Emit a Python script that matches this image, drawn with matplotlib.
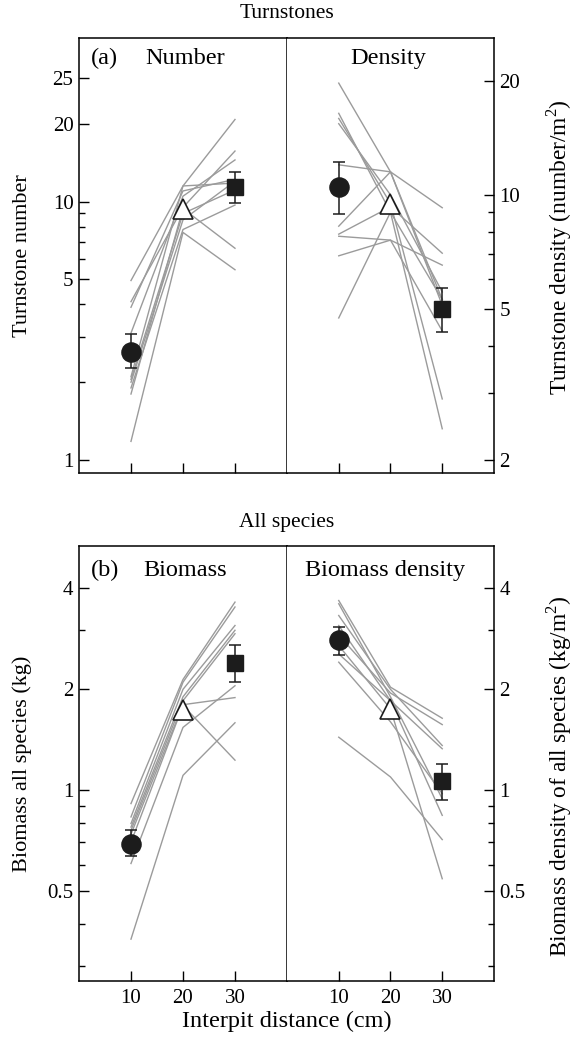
import matplotlib
matplotlib.use('Agg')
import matplotlib.pyplot as plt

plt.rcParams['font.family'] = ['Liberation Serif', 'DejaVu Serif']
plt.rcParams['mathtext.fontset'] = 'custom'
plt.rcParams['mathtext.rm'] = 'Liberation Serif'

dist = [10, 20, 30]

# individual trajectories (value at 10, 20, 30 cm)
number_ind = [
    [4.95, 11.5, 20.8],
    [4.10, 9.5, 15.7],
    [3.90, 11.0, 12.2],
    [3.10, 10.5, 14.5],
    [2.10, 11.5, 11.8],
    [2.05, 9.0, 11.1],
    [2.00, 8.5, 12.0],
    [1.90, 7.8, 9.7],
    [1.80, 9.4, 6.6],
    [1.18, 7.6, 5.45],
]
number_mean = [2.62, 9.35, 11.4]
number_lo = [2.26, 9.9]
number_hi = [3.06, 13.0]

density_ind = [
    [19.7, 11.5, 5.3],
    [16.4, 9.0, 2.42],
    [15.9, 9.5, 2.9],
    [15.4, 10.0, 5.55],
    [12.0, 11.5, 9.25],
    [8.27, 11.5, 5.12],
    [7.88, 9.3, 7.02],
    [7.78, 7.6, 6.53],
    [6.91, 7.6, 4.38],
    [4.74, 9.0, 5.3],
]
density_mean = [10.5, 9.44, 5.0]
density_lo = [8.9, 4.36]
density_hi = [12.2, 5.7]

biomass_ind = [
    [0.913, 2.14, 3.64],
    [0.833, 2.10, 3.52],
    [0.796, 2.00, 3.10],
    [0.777, 1.90, 3.00],
    [0.760, 1.85, 2.93],
    [0.740, 1.80, 1.89],
    [0.700, 1.79, 1.23],
    [0.605, 1.54, 2.05],
    [0.360, 1.108, 1.59],
]
biomass_mean = [0.694, 1.73, 2.39]
biomass_lo = [0.637, 2.10]
biomass_hi = [0.764, 2.71]

bdens_ind = [
    [3.68, 2.03, 1.64],
    [3.60, 1.90, 0.944],
    [3.32, 2.00, 1.36],
    [3.10, 1.85, 0.842],
    [2.90, 1.95, 1.57],
    [2.70, 1.75, 0.545],
    [2.55, 1.85, 1.33],
    [2.41, 1.60, 0.977],
    [1.44, 1.096, 0.713],
]
bdens_mean = [2.80, 1.75, 1.064]
bdens_lo = [2.54, 0.934]
bdens_hi = [3.07, 1.195]

num_ticks = [1, 5, 10, 20, 30]
num_labels = ['1', '5', '10', '20', '25']
num_minor = [2, 3, 4, 6, 7, 8, 9]
dens_ticks = [2, 5, 10, 20]
dens_minor = [3, 4, 6, 7, 8, 9]
bio_ticks = [0.5, 1, 2, 4]
bio_labels = ['0.5', '1', '2', '4']
bio_minor = [0.3, 0.4, 0.6, 0.7, 0.8, 0.9, 3]

FS_TICK = 15
FS_YLAB = 16
FS_YLAB_R = 16.8
FS_TITLE = 15.5
FS_PANEL = 17.5
GREY = '#9b9b9b'
INK = '#1c1c1c'


def draw(ax, ind, mean, lo, hi):
    for row in ind:
        ax.plot(dist, row, color=GREY, lw=1.0, zorder=1)
    ends = [mean[0], mean[2]]
    err = [[ends[0] - lo[0], ends[1] - lo[1]], [hi[0] - ends[0], hi[1] - ends[1]]]
    ax.errorbar([10, 30], ends, yerr=err, fmt='none', ecolor=INK,
                elinewidth=1.1, capsize=4, capthick=1.1, zorder=2)
    ax.plot(10, mean[0], 'o', ms=13.8, color=INK, zorder=3)
    ax.plot(20, mean[1], '^', ms=15, mfc='white', mec=INK, mew=1.2, zorder=3)
    ax.plot(30, mean[2], 's', ms=12, color=INK, zorder=3)


def style(ax, ticks, labels, minor, ylim, side, show_x):
    ax.set_yscale('log')
    ax.set_xlim(0, 40)
    ax.set_ylim(*ylim)
    ax.set_xticks(dist)
    if show_x:
        ax.set_xticklabels([str(d) for d in dist])
    else:
        ax.set_xticklabels([])
    ax.set_yticks(ticks, labels)
    ax.set_yticks(minor, minor=True)
    ax.yaxis.set_minor_formatter(plt.NullFormatter())
    ax.tick_params(axis='both', which='major', direction='in', length=7,
                   width=1, labelsize=FS_TICK, pad=4)
    ax.tick_params(axis='y', which='minor', direction='in', length=4, width=1)
    ax.tick_params(axis='x', which='major', pad=6)
    if side == 'right':
        ax.yaxis.tick_right()
        ax.yaxis.set_label_position('right')
        ax.tick_params(axis='y', which='both', left=False)
        ax.spines['left'].set_visible(False)
    else:
        ax.tick_params(axis='y', which='both', right=False)
    for s in ax.spines.values():
        s.set_linewidth(1.1)


fig = plt.figure(figsize=(5.74, 10.44), dpi=100)

L, M, R = 0.1376, 0.5, 0.8606
top_a, h_a = 0.5469, 0.4167
top_b, h_b = 0.0603, 0.4167

ax1 = fig.add_axes([L, top_a, M - L, h_a])
ax2 = fig.add_axes([M, top_a, R - M, h_a])
ax3 = fig.add_axes([L, top_b, M - L, h_b])
ax4 = fig.add_axes([M, top_b, R - M, h_b])

draw(ax1, number_ind, number_mean, number_lo, number_hi)
draw(ax2, density_ind, density_mean, density_lo, density_hi)
draw(ax3, biomass_ind, biomass_mean, biomass_lo, biomass_hi)
draw(ax4, bdens_ind, bdens_mean, bdens_lo, bdens_hi)

style(ax1, num_ticks, num_labels, num_minor, (0.89, 43), 'left', False)
style(ax2, dens_ticks, [str(t) for t in dens_ticks], dens_minor, (1.85, 25.9), 'right', False)
style(ax3, bio_ticks, bio_labels, bio_minor, (0.27, 5.35), 'left', True)
style(ax4, bio_ticks, bio_labels, bio_minor, (0.27, 5.35), 'right', True)

ax1.set_ylabel('Turnstone number', fontsize=FS_YLAB)
ax1.yaxis.set_label_coords(-0.228, 0.5)
ax2.set_ylabel('Turnstone density (number/m$^2$)', fontsize=FS_YLAB_R)
ax2.yaxis.set_label_coords(1.245, 0.52)
ax3.set_ylabel('Biomass all species (kg)', fontsize=FS_YLAB)
ax3.yaxis.set_label_coords(-0.228, 0.5)
ax4.set_ylabel('Biomass density of all species (kg/m$^2$)', fontsize=FS_YLAB_R)
ax4.yaxis.set_label_coords(1.245, 0.47)

tx1 = ax1.get_xaxis_transform()
ax1.text(2.2, 0.953, '(a)', transform=tx1, fontsize=FS_PANEL, va='center', ha='left')
ax1.text(20.5, 0.953, 'Number', transform=tx1, fontsize=FS_PANEL, va='center', ha='center')
ax2.text(19.5, 0.953, 'Density', transform=ax2.get_xaxis_transform(),
         fontsize=FS_PANEL, va='center', ha='center')
tx3 = ax3.get_xaxis_transform()
ax3.text(2.2, 0.943, '(b)', transform=tx3, fontsize=FS_PANEL, va='center', ha='left')
ax3.text(20.5, 0.943, 'Biomass', transform=tx3, fontsize=FS_PANEL, va='center', ha='center')
ax4.text(19, 0.943, 'Biomass density', transform=ax4.get_xaxis_transform(),
         fontsize=FS_PANEL, va='center', ha='center')

fig.text(0.5, 1 - 14 / 1044, 'Turnstones', fontsize=FS_TITLE, ha='center', va='center')
fig.text(0.5, 1 - 522 / 1044, 'All species', fontsize=FS_TITLE, ha='center', va='center')
fig.text(0.5, 1 - 1021 / 1044, 'Interpit distance (cm)', fontsize=FS_PANEL, ha='center', va='center')

fig.savefig('out.png', dpi=100)
